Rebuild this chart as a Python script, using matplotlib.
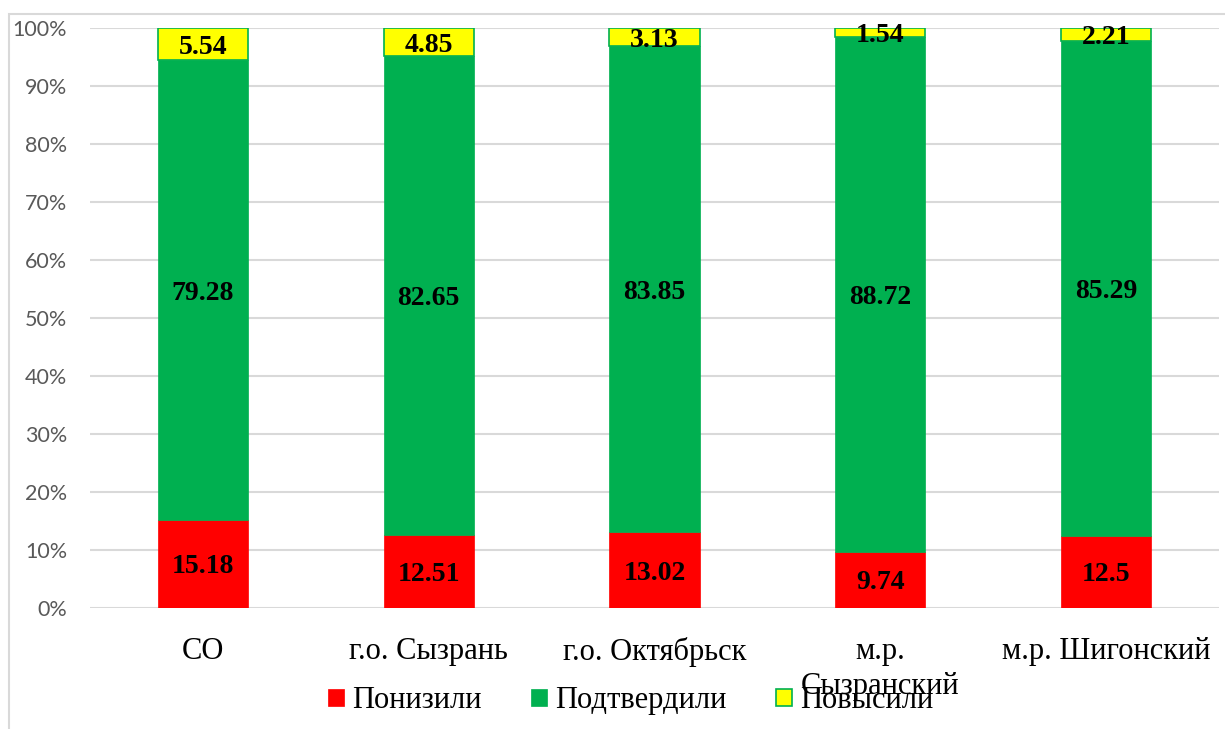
import matplotlib
matplotlib.use("Agg")
import matplotlib.pyplot as plt
import numpy as np
from matplotlib.patches import Rectangle
from matplotlib.ticker import FuncFormatter

categories = ["СО", "г.о. Сызрань", "г.о. Октябрьск", "м.р.\nСызранский", "м.р. Шигонский"]
ponizili = [15.18, 12.51, 13.02, 9.74, 12.5]
podtverdili = [79.28, 82.65, 83.85, 88.72, 85.29]
povysili = [5.54, 4.85, 3.13, 1.54, 2.21]
series_names = ["Понизили", "Подтвердили", "Повысили"]

colors = ["#FF0000", "#00B050", "#FFFF00"]
edges = ["#FF0000", "#00B050", "#00B050"]

serif = "Liberation Serif"

fig = plt.figure(figsize=(12.25, 7.29), dpi=100)
ax = fig.add_axes([90/1225, 1-608/729, (1219-90)/1225, (608-28)/729])

# frame around chart area
fig.patches.append(Rectangle((9/1225, -0.1), 1.2, 1 - 14/729 + 0.1, transform=fig.transFigure,
                             fill=False, edgecolor="#D9D9D9", linewidth=1.5, zorder=0))

x = np.arange(len(categories))
width = 0.4
data = [ponizili, podtverdili, povysili]
bottom = np.zeros(len(categories))
for vals, name, c, ec in zip(data, series_names, colors, edges):
    vals = np.array(vals, dtype=float)
    ax.bar(x, vals, width, bottom=bottom, color=c, edgecolor=ec,
           linewidth=1.2 if c == "#FFFF00" else 0.5, label=name, zorder=3)
    for xi, b, v in zip(x, bottom, vals):
        ax.text(xi, b + v / 2, f"{v:g}", ha="center", va="center_baseline",
                fontfamily=serif, fontweight="bold", fontsize=20, color="black", zorder=4)
    bottom += vals

ax.set_xlim(-0.5, len(categories) - 0.5)
ax.set_ylim(0, 100)
ax.set_yticks(np.arange(0, 101, 10))
ax.yaxis.set_major_formatter(FuncFormatter(lambda v, p: f"{int(v)}%"))
ax.grid(axis="y", color="#D9D9D9", linewidth=1.5, zorder=0)
ax.set_axisbelow(True)
for s in ax.spines.values():
    s.set_visible(False)
ax.tick_params(axis="y", length=0, labelsize=15.5, labelcolor="#595959", pad=16.5)
for lab in ax.get_yticklabels():
    lab.set_fontfamily("Lato")
ax.set_xticks(x)
ax.set_xticklabels(categories, fontfamily=serif, fontsize=22, linespacing=1.25)
ax.tick_params(axis="x", length=0, pad=21)

leg = ax.legend(loc="center", bbox_to_anchor=(0.479, -0.160), ncol=3, frameon=False,
                prop={"family": serif, "size": 22}, handlelength=0.52, handleheight=0.52,
                handletextpad=0.26, columnspacing=1.63, borderpad=0.2)

fig.savefig("out.png", dpi=100)
